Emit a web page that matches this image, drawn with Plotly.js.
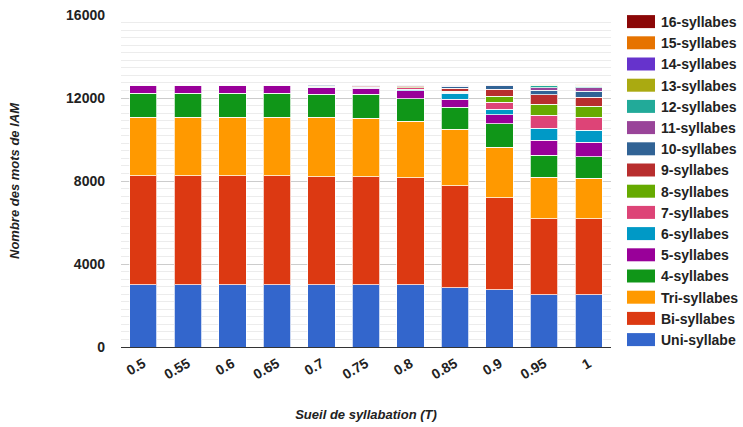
<!DOCTYPE html>
<html>
<head>
<meta charset="utf-8">
<script src="https://cdn.plot.ly/plotly-3.0.1.min.js"></script>
<style>
  html, body { margin: 0; padding: 0; background: #fff; }
  #chart { width: 743px; height: 427px; }
</style>
</head>
<body>
<div id="chart"></div>
<script>
// Syllabation threshold values (x axis)
const seuils = ['0.5', '0.55', '0.6', '0.65', '0.7', '0.75', '0.8', '0.85', '0.9', '0.95', '1'];

// Word counts per syllable class, one value per threshold
const uniSyllabe  = [3000, 3000, 3000, 3000, 3000, 3000, 2990, 2850, 2750, 2510, 2510];
const biSyllabes  = [5250, 5250, 5250, 5250, 5210, 5210, 5170, 4920, 4445, 3660, 3660];
const triSyllabes = [2820, 2820, 2820, 2820, 2860, 2810, 2730, 2720, 2425, 2010, 1960];
const syll4  = [1160, 1160, 1160, 1160, 1110, 1160, 1080, 1060, 1150, 1060, 1030];
const syll5  = [350, 350, 350, 350, 320, 290, 380, 390, 425, 725, 705];
const syll6  = [20, 20, 20, 20, 30, 40, 80, 286, 260, 575, 578];
const syll7  = [12, 12, 12, 12, 20, 25, 60, 50, 337, 627, 641];
const syll8  = [8, 8, 8, 8, 15, 15, 50, 60, 304, 530, 516];
const syll9  = [8, 8, 8, 8, 20, 30, 45, 130, 322, 448, 448];
const syll10 = [20, 20, 20, 30, 45, 45, 35, 100, 174, 226, 288];
const syll11 = [8, 8, 8, 8, 20, 20, 20, 40, 30, 126, 160];
const syll12 = [4, 4, 4, 4, 10, 10, 15, 30, 20, 96, 80];
const syll13 = [2, 2, 2, 2, 6, 7, 10, 15, 12, 30, 40];
const syll14 = [1, 1, 1, 1, 4, 4, 5, 10, 10, 18, 22];
const syll15 = [1, 1, 1, 1, 2, 2, 3, 8, 6, 12, 14];
const syll16 = [1, 1, 1, 1, 2, 2, 2, 5, 4, 8, 8];

const seriesNames = ['Uni-syllabe', 'Bi-syllabes', 'Tri-syllabes', '4-syllabes', '5-syllabes',
  '6-syllabes', '7-syllabes', '8-syllabes', '9-syllabes', '10-syllabes', '11-syllabes',
  '12-syllabes', '13-syllabes', '14-syllabes', '15-syllabes', '16-syllabes'];
const seriesValues = [uniSyllabe, biSyllabes, triSyllabes, syll4, syll5, syll6, syll7, syll8,
  syll9, syll10, syll11, syll12, syll13, syll14, syll15, syll16];
const seriesColors = ['#3366cc', '#dc3912', '#ff9900', '#109618', '#990099', '#0099c6',
  '#dd4477', '#66aa00', '#b82e2e', '#316395', '#994499', '#22aa99', '#aaaa11', '#6633cc',
  '#e67300', '#8b0707'];

const traces = seriesNames.map((name, i) => ({
  type: 'bar',
  name: name,
  x: seuils,
  y: seriesValues[i],
  marker: {
    color: seriesColors[i],
    line: { color: 'rgba(255,255,255,0.75)', width: 1 }
  },
  hoverinfo: 'x+y+name'
}));

const FAMILY = 'Liberation Sans, Arial, sans-serif';

const layout = {
  width: 743,
  height: 427,
  margin: { l: 121, r: 132, t: 15, b: 80 },
  paper_bgcolor: '#ffffff',
  plot_bgcolor: '#ffffff',
  barmode: 'stack',
  bargap: 0.385,
  font: { family: FAMILY, size: 14, color: '#222222', weight: 'bold' },
  showlegend: true,
  legend: {
    traceorder: 'reversed',
    xref: 'container', yref: 'container',
    x: 621 / 743, y: 1 - 6 / 427,
    xanchor: 'left', yanchor: 'top',
    maxheight: 420,
    font: { family: FAMILY, size: 14, color: '#222222', weight: 'bold' },
    bgcolor: 'rgba(0,0,0,0)',
    borderwidth: 0
  },
  xaxis: {
    type: 'category',
    tickangle: -30,
    ticks: '',
    ticklabelstandoff: 5,
    showgrid: false,
    showline: false,
    zeroline: false,
    tickfont: { family: FAMILY, size: 14, color: '#222222', weight: 'bold' },
    title: {
      text: 'Sueil de syllabation (T)',
      font: { family: FAMILY, size: 13, color: '#222222', weight: 'bold', style: 'italic' },
      standoff: 28
    },
    automargin: false
  },
  yaxis: {
    range: [0, 16000],
    tickvals: [0, 4000, 8000, 12000, 16000],
    ticktext: ['0', '4000', '8000', '12000', '16000'],
    ticks: '',
    ticklabelstandoff: 15,
    showgrid: true,
    gridcolor: '#cccccc',
    gridwidth: 1,
    minor: { dtick: 4000 / 11, showgrid: true, gridcolor: '#ececec', gridwidth: 1 },
    zeroline: true,
    zerolinecolor: '#333333',
    zerolinewidth: 1,
    showline: false,
    tickfont: { family: FAMILY, size: 14, color: '#222222', weight: 'bold' },
    title: {
      text: 'Nombre des mots de IAM',
      font: { family: FAMILY, size: 13, color: '#222222', weight: 'bold', style: 'italic' },
      standoff: 43
    },
    automargin: false
  }
};

Plotly.newPlot('chart', traces, layout, { staticPlot: true, displayModeBar: false }).then(gd => {
  // Wider rectangular legend swatches
  gd.querySelectorAll('.legend .legendpoints path').forEach(p => {
    p.setAttribute('d', 'M14,6.5H-14V-6.5H14Z');
    p.style.strokeWidth = '0px';
  });
});
</script>
</body>
</html>
